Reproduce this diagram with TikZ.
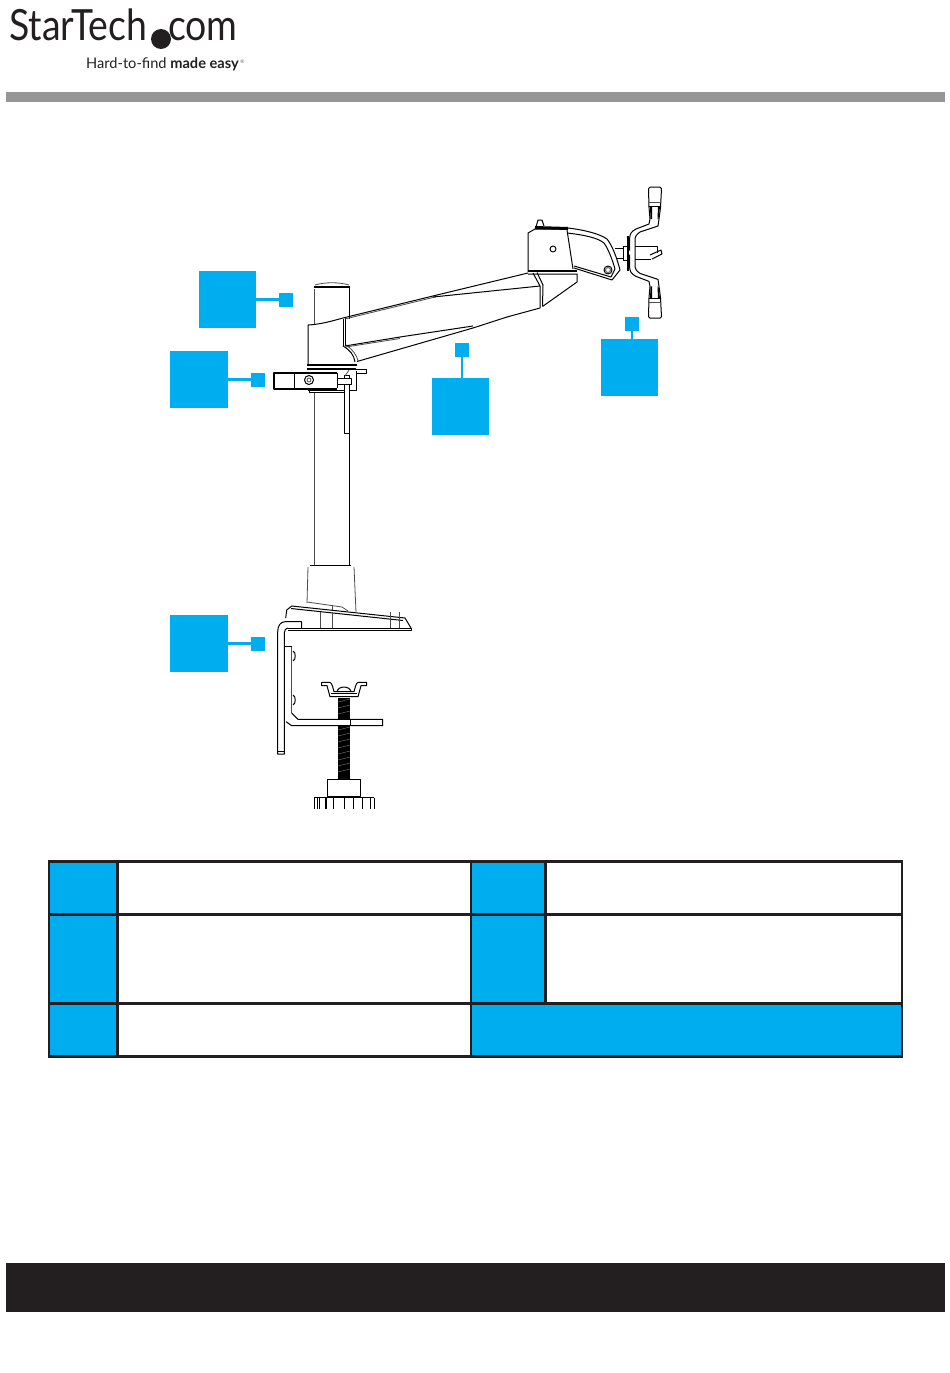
\documentclass[tikz,border=0pt]{standalone}
\usepackage{fontspec}
\usepackage{xcolor}
\setmainfont{Lato}
\definecolor{cyanblue}{RGB}{0, 174, 239}
\definecolor{inkblack}{RGB}{35, 31, 32}
\definecolor{bargray}{RGB}{150, 150, 150}
\usetikzlibrary{positioning,calc}

\begin{document}
\begin{tikzpicture}[
    x=1pt,y=-1pt,
    line join=round,
    calloutbox/.style={
        rectangle,
        fill=cyanblue,
        inner sep=0pt,
        outer sep=0pt,
        minimum width=57.5pt,
        minimum height=57.5pt
    },
    calloutdot/.style={
        rectangle,
        fill=cyanblue,
        inner sep=0pt,
        outer sep=0pt,
        minimum width=14pt,
        minimum height=14pt
    },
    lead/.style={cyanblue,line width=2.6pt},
    part/.style={black,line width=1pt},
    thin part/.style={black!70,line width=0.8pt},
    heavy/.style={black,line width=2pt},
    rule/.style={inkblack,line width=3pt},
    fine rule/.style={inkblack,line width=2pt}
]
    \useasboundingbox (0,0) rectangle (950,1373);

    % Logo
    \node[anchor=base west,inner sep=0pt,text=inkblack] (logostar) at (9,40)
        {\scalebox{0.87}[1]{\fontsize{43}{43}\selectfont StarTech}};
    \node[circle,fill=inkblack,inner sep=0pt,minimum size=20pt] (logodot) at (161,39) {};
    \node[anchor=base west,inner sep=0pt,text=inkblack] (logocom) at (168,40)
        {\scalebox{0.87}[1]{\fontsize{43}{43}\selectfont com}};
    \node[anchor=base west,inner sep=0pt,text=inkblack,font=\fontsize{14.6}{15}\selectfont] (logotag) at (86,68)
        {Hard-to-find \textbf{made easy}};
    \node[inner sep=0pt,text=inkblack!70,font=\fontsize{5}{5}\selectfont] (logoreg) at (242.5,62) {®};

    % Header and footer bars
    \fill[bargray] (6,92) rectangle (945,102);
    \fill[inkblack] (6,1263) rectangle (945,1312);

    % Pole
    \draw[thin part] (314.5,289) -- (314.5,324);
    \draw[part] (349.5,287) -- (349.5,319);
    \draw[thin part] (314.5,392) -- (314.5,565);
    \draw[part] (349.5,392) -- (349.5,565);
    \draw[heavy] (314,286.5) -- (350,286.5);
    \draw[thin part] (315,285) .. controls (325,282) and (339,282) .. (349,285);

    % Collar and clamp
    \draw[part] (308,365) -- (308,325) .. controls (320,324.5) and (332,321) .. (343,318);
    \draw[part] (343,319) -- (343,346);
    \draw[part] (345,318) -- (345,346);
    \draw[part] (343,346) .. controls (350,350) and (354,355) .. (355,362);
    \draw[thin part] (346,345) .. controls (352,349) and (357,355) .. (358,361);
    \draw[heavy] (307,365) -- (357,365);
    \draw[heavy] (307,369) -- (356,369);
    \draw[part] (338,369) -- (366,369) -- (366,373) -- (356,373);
    \draw[heavy] (337,373) -- (274,373) -- (274,388.5) -- (337,388.5);
    \draw[part] (294,373) -- (294,388);
    \draw[part] (337,373) -- (337,388);
    \draw[part] (356,371) -- (356,390) -- (308,390);
    \draw[part] (309,390) -- (309,392.5) -- (349,392.5) -- (349,390);
    \draw[part] (309,380) circle (4.5);
    \draw[thin part] (309,380) circle (2);
    \draw[part,fill=white] (344,375) rectangle (349,433);
    \draw[part,fill=white] (337.5,378) rectangle (351,384);
    \draw[thin part] (345,376) -- (349,370);

    % Arm
    \draw[part] (343,318) -- (437,295) -- (528,273);
    \draw[thin part] (345,319) -- (437,296.5);
    \draw[part] (345,346) -- (400,337) -- (473,326);
    \draw[thin part] (346,347) -- (400,338.5);
    \draw[part] (357,361.5) -- (473,328) -- (507,317) -- (540,308);
    \draw[part] (433,297) -- (540,286);
    \draw[part] (533,273) -- (540,286) -- (540,308);
    \draw[part] (537,272.5) -- (543,285) -- (542.5,306);

    % Head of the arm
    \draw[part] (528,272) -- (528,233) -- (535,229) -- (568,229);
    \draw[black,line width=3pt] (535,227.5) -- (568,228.5);
    \draw[part] (536,227) -- (538,220) -- (542,220) -- (544,226);
    \draw[part] (567,230) -- (573,269);
    \draw[heavy] (528,271) -- (577,271);
    \draw[part] (528,274) -- (577,274) -- (577,282) -- (542.5,306.5);
    \draw[part] (553,249) circle (3);

    % Tilt joint
    \draw[part] (568,228) .. controls (585,230) and (600,234) .. (607,239)
        .. controls (612,245) and (617,258) .. (620,270) -- (612,280) -- (574,268);
    \draw[part] (567,233) .. controls (585,235) and (598,238) .. (604,243)
        .. controls (609,250) and (613,262) .. (615,269) -- (611,277) -- (574,266);
    \draw[part] (608,270) circle (4);
    \draw[thin part] (608,270) circle (2.5);

    % VESA plate
    \draw[part] (615,248) -- (623,248) -- (623,258) -- (616,258);
    \draw[part] (623,246) rectangle (627,260);
    \draw[heavy] (628,236) -- (628,271);
    \draw[part] (635,246) -- (657,246) -- (657,253);
    \draw[part] (635,259) -- (651,259);
    \draw[part] (650,255) -- (661,250) -- (662,254) -- (652,259);
    \foreach \flip in {1,-1}{
        \begin{scope}[shift={(0,252.7)},yscale=\flip]
            \draw[part] (650,-33.7) -- (649,-28.7) -- (636,-23.7) .. controls (631,-21) and (630,-19) .. (629.5,-14) -- (629.5,-2);
            \draw[part] (659,-33.7) -- (658,-26.7) -- (640,-20.7) .. controls (636,-18) and (635,-16) .. (635,-12) -- (635,0);
            \draw[part,fill=white] (650,-33.7) -- (649,-45) -- (648.5,-64) -- (650,-65.5) -- (660,-65.5) -- (661.5,-64) -- (660.5,-45) -- (659,-33.7);
            \fill[black] (650.5,-33.7) -- (650,-46) -- (652,-46) -- (652,-33.7) -- cycle;
            \fill[black] (657.5,-33.7) -- (658,-46) -- (660,-46) -- (658.5,-33.7) -- cycle;
            \draw[part] (649,-46) -- (660.5,-46);
            \draw[thin part] (649,-50) -- (660.5,-50);
        \end{scope}
    }

    % Base
    \draw[part] (310,565) -- (351,565);
    \draw[thin part] (308,567) -- (307,603);
    \draw[thin part] (354,567) -- (356,612);
    \draw[thin part] (307,602) -- (342,607) -- (348,611);
    \draw[thin part] (332,605) -- (332,611);
    \draw[part] (285.7,618) -- (286.7,610) -- (291.7,606) -- (405,618) -- (411,628);
    \draw[part] (291,608.5) -- (403,620.5);
    \draw[part] (288,628) -- (411,628) -- (411,630) -- (288,630);
    \foreach \ribx in {320,332,390,399}{
        \draw[thin part] (\ribx,612) -- (\ribx,628);
    }

    % Clamp
    \draw[part] (301.7,628) -- (301.7,621.7) -- (285,621.7) .. controls (280,622) and (277.7,626) .. (277.7,632) -- (277.7,754) -- (284.3,754) -- (284.3,633) .. controls (284.3,630) and (286,628) .. (288,628);
    \draw[part] (277.7,751) -- (284.3,751);
    \draw[part] (284.3,646.7) -- (291.7,646.7);
    \draw[thin part] (291.7,646.7) -- (291.7,713);
    \draw[part] (291.7,713) -- (298,719.3) -- (382.7,719.3) -- (382.7,725.7) -- (291.7,725.7) -- (286,721.7);
    \draw[part] (293,651) .. controls (296,652) and (296,660) .. (293,661);
    \draw[part] (293,695) .. controls (296,696) and (296,704) .. (293,705);

    % Threaded screw
    \fill[black] (337.7,698) rectangle (350,718.5);
    \fill[black] (337.7,725.7) rectangle (350,779.3);
    \foreach \thready in {702,708,714,730,736,742,748,754,760,766,772}{
        \draw[black!55,line width=0.4pt] (338,\thready) -- (350,\thready-3);
    }
    \draw[part] (350,719.3) -- (350,725.7);

    % Wing nut
    \draw[part,fill=white] (321.7,682.3) -- (330,682.3) .. controls (332,683) and (333,688) .. (334,691.7) -- (354,691.7) .. controls (355,688) and (356,683) .. (358,682.3) -- (366.7,682.3) -- (366.7,685.7) -- (361,685.7) -- (358,696.7) -- (330,696.7) -- (327,685.7) -- (321.7,685.7) -- cycle;
    \draw[part] (337,691.7) .. controls (338,685.5) and (350,685.5) .. (351,691.7);
    \draw[part] (331,693.7) -- (357,693.7);

    % Hand knob
    \draw[part] (327.7,779.3) rectangle (360.7,796.7);
    \draw[part] (314.3,797.5) -- (374.3,797.5);
    \foreach \ribx in {314.5,317,319.5,326,333.5,344,353.5,362.5,370,374.5}{
        \draw[part] (\ribx,797.5) -- (\ribx,808.7);
    }
    \draw[heavy] (326,797.5) -- (326,808.7);

    % Callouts
    \node[calloutbox] (calloutA) at (227.5,299.5) {};
    \node[calloutdot] (dotA) at (286,299.5) {};
    \node[calloutbox] (calloutB) at (199,379.5) {};
    \node[calloutdot] (dotB) at (258,379.5) {};
    \node[calloutbox] (calloutC) at (460.5,406.5) {};
    \node[calloutdot] (dotC) at (462,350) {};
    \node[calloutbox] (calloutD) at (629.5,367.5) {};
    \node[calloutdot] (dotD) at (632,324) {};
    \node[calloutbox] (calloutE) at (199,643.5) {};
    \node[calloutdot] (dotE) at (258,643.5) {};
    \draw[lead] (calloutA) -- (dotA);
    \draw[lead] (calloutB) -- (dotB);
    \draw[lead] (dotC) -- (dotC |- calloutC.north);
    \draw[lead] (dotD) -- (dotD |- calloutD.north);
    \draw[lead] (calloutE) -- (dotE);

    % Table
    \fill[cyanblue] (49,861) rectangle (117,1056);
    \fill[cyanblue] (471,861) rectangle (545,1003);
    \fill[cyanblue] (471,1003) rectangle (902,1056);
    \draw[rule] (48,861.5) -- (903,861.5);
    \draw[rule] (48,914) -- (903,914);
    \draw[rule] (48,1003) -- (903,1003);
    \draw[rule] (48,1056) -- (903,1056);
    \draw[fine rule] (49,861) -- (49,1056);
    \draw[rule] (117.5,861) -- (117.5,1056);
    \draw[fine rule] (471,861) -- (471,1056);
    \draw[rule] (545,861) -- (545,1003);
    \draw[fine rule] (902,861) -- (902,1056);
\end{tikzpicture}
\end{document}
